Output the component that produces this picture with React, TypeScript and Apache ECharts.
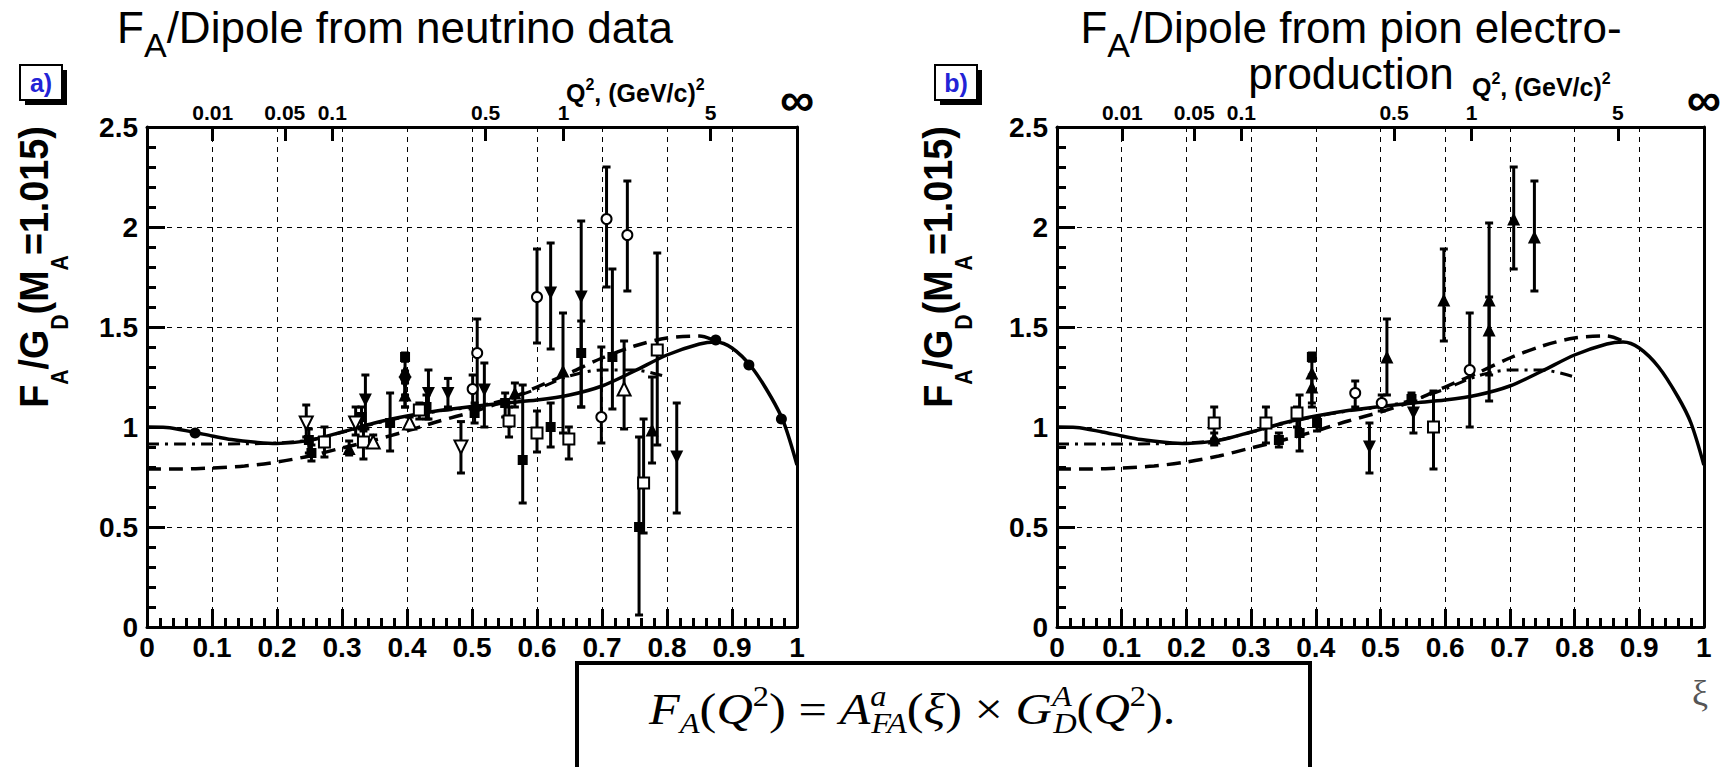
import React, { useEffect, useRef } from 'react';
import * as echarts from 'echarts';

// ---------------- data ----------------
const X_MIN = 0;
const X_MAX = 1;
const Y_MIN = 0;
const Y_MAX = 2.5;

// top axis: Q^2 values placed at their xi positions
const TOP_TICK_XI = [0.101, 0.212, 0.285, 0.521, 0.641, 0.867, 1.0];
const TOP_TICK_LABELS = ['0.01', '0.05', '0.1', '0.5', '1', '5', '∞'];

// model curves (same in both panels)
const SOLID_CURVE: number[][] = [
  [0, 1.0], [0.03, 0.998], [0.07, 0.975], [0.1, 0.955], [0.13, 0.937], [0.17, 0.923], [0.2, 0.918],
  [0.25, 0.933], [0.3, 0.975], [0.35, 1.02], [0.4, 1.055], [0.45, 1.083], [0.5, 1.103], [0.55, 1.12],
  [0.6, 1.135], [0.65, 1.16], [0.7, 1.205], [0.75, 1.28], [0.8, 1.36], [0.85, 1.415], [0.875, 1.425],
  [0.9, 1.395], [0.93, 1.3], [0.96, 1.15], [0.98, 1.02], [1.0, 0.81],
];
const DASHED_CURVE: number[][] = [
  [0, 0.79], [0.05, 0.79], [0.1, 0.795], [0.15, 0.805], [0.2, 0.825], [0.25, 0.855], [0.3, 0.895],
  [0.35, 0.935], [0.4, 0.98], [0.45, 1.03], [0.5, 1.075], [0.55, 1.13], [0.6, 1.2], [0.65, 1.27],
  [0.7, 1.345], [0.75, 1.405], [0.8, 1.445], [0.85, 1.455], [0.875, 1.43],
];
const DASHDOT_CURVE: number[][] = [
  [0, 0.915], [0.05, 0.915], [0.1, 0.915], [0.15, 0.916], [0.2, 0.92], [0.25, 0.935], [0.3, 0.973],
  [0.35, 1.017], [0.4, 1.052], [0.45, 1.08], [0.5, 1.1], [0.55, 1.135], [0.6, 1.19], [0.65, 1.255],
  [0.7, 1.285], [0.75, 1.285], [0.8, 1.25],
];

// [xi, value, low, high, marker]
type Pt = [number, number, number, number, string];
const NEUTRINO_POINTS: Pt[] = [
  [0.074, 0.97, 0.97, 0.97, 'fc'],
  [0.245, 1.02, 0.95, 1.11, 'otdn'],
  [0.249, 0.935, 0.87, 0.99, 'sq'],
  [0.253, 0.87, 0.83, 0.91, 'sq'],
  [0.273, 0.925, 0.85, 1.0, 'osq'],
  [0.311, 0.893, 0.86, 0.93, 'tri'],
  [0.321, 1.02, 0.96, 1.1, 'otdn'],
  [0.33, 1.05, 0.99, 1.1, 'sq'],
  [0.336, 1.135, 0.99, 1.26, 'tdn'],
  [0.333, 0.925, 0.84, 0.98, 'osq'],
  [0.348, 0.925, 0.9, 0.96, 'otri'],
  [0.374, 1.02, 0.88, 1.17, 'sq'],
  [0.397, 1.35, 1.33, 1.37, 'sq'],
  [0.397, 1.28, 1.1, 1.33, 'tri'],
  [0.397, 1.22, 1.16, 1.28, 'tdn'],
  [0.397, 1.16, 1.1, 1.22, 'tri'],
  [0.404, 1.02, 0.99, 1.05, 'otri'],
  [0.419, 1.085, 1.04, 1.12, 'osq'],
  [0.433, 1.168, 1.04, 1.285, 'tdn'],
  [0.43, 1.1, 1.04, 1.16, 'sq'],
  [0.463, 1.168, 1.1, 1.243, 'tdn'],
  [0.483, 0.9, 0.77, 1.027, 'otdn'],
  [0.501, 1.19, 1.09, 1.26, 'oc'],
  [0.504, 1.07, 1.02, 1.12, 'sq'],
  [0.508, 1.37, 1.1, 1.54, 'oc'],
  [0.519, 1.185, 1.0, 1.32, 'tdn'],
  [0.551, 1.12, 1.05, 1.17, 'sq'],
  [0.557, 1.03, 0.95, 1.1, 'osq'],
  [0.566, 1.17, 1.1, 1.22, 'tri'],
  [0.578, 0.835, 0.62, 1.21, 'sq'],
  [0.6, 1.65, 1.42, 1.89, 'oc'],
  [0.6, 0.97, 0.875, 1.08, 'osq'],
  [0.621, 1.67, 1.39, 1.92, 'tdn'],
  [0.621, 1.0, 0.9, 1.12, 'sq'],
  [0.64, 1.28, 0.97, 1.57, 'tri'],
  [0.649, 0.94, 0.84, 1.0, 'osq'],
  [0.668, 1.65, 1.1, 2.03, 'tdn'],
  [0.668, 1.37, 1.1, 1.53, 'sq'],
  [0.699, 1.05, 0.92, 1.4, 'oc'],
  [0.707, 2.04, 1.7, 2.3, 'oc'],
  [0.716, 1.35, 1.09, 1.79, 'sq'],
  [0.734, 1.19, 0.99, 1.43, 'otri'],
  [0.739, 1.96, 1.68, 2.23, 'oc'],
  [0.757, 0.5, 0.06, 0.95, 'sq'],
  [0.764, 0.72, 0.47, 1.04, 'osq'],
  [0.777, 0.985, 0.82, 1.25, 'tri'],
  [0.785, 1.385, 0.91, 1.87, 'osq'],
  [0.815, 0.85, 0.57, 1.12, 'tdn'],
  [0.875, 1.435, 1.435, 1.435, 'fc'],
  [0.926, 1.31, 1.31, 1.31, 'fc'],
  [0.976, 1.04, 1.04, 1.04, 'fc'],
];
const PION_POINTS: Pt[] = [
  [0.243, 1.02, 0.94, 1.1, 'osq'],
  [0.243, 0.945, 0.91, 0.97, 'tri'],
  [0.323, 1.02, 0.92, 1.1, 'osq'],
  [0.343, 0.935, 0.9, 0.97, 'sq'],
  [0.371, 1.07, 1.0, 1.1, 'osq'],
  [0.375, 0.97, 0.88, 1.16, 'sq'],
  [0.394, 1.35, 1.33, 1.37, 'sq'],
  [0.394, 1.27, 1.1, 1.33, 'tri'],
  [0.394, 1.2, 1.12, 1.26, 'tri'],
  [0.402, 1.02, 0.98, 1.05, 'sq'],
  [0.461, 1.17, 1.1, 1.23, 'oc'],
  [0.483, 0.9, 0.77, 1.02, 'tdn'],
  [0.502, 1.12, 1.08, 1.16, 'oc'],
  [0.51, 1.35, 1.16, 1.54, 'tri'],
  [0.548, 1.14, 1.12, 1.17, 'sq'],
  [0.551, 1.07, 0.97, 1.13, 'tdn'],
  [0.582, 1.0, 0.79, 1.18, 'osq'],
  [0.598, 1.635, 1.43, 1.89, 'tri'],
  [0.638, 1.285, 1.0, 1.57, 'oc'],
  [0.668, 1.635, 1.26, 2.02, 'tri'],
  [0.668, 1.485, 1.13, 1.65, 'tri'],
  [0.706, 2.04, 1.79, 2.3, 'tri'],
  [0.738, 1.95, 1.68, 2.23, 'tri'],
];

// ---------------- styles ----------------
const FONT = "'Liberation Sans', Arial, Helvetica, sans-serif";
const SERIF = "'Liberation Serif', 'DejaVu Serif', serif";

const MARKERS: Record<string, { symbol: string; size: number; fill: string; rotate: number }> = {
  sq: { symbol: 'rect', size: 10, fill: '#000', rotate: 0 },
  osq: { symbol: 'rect', size: 11, fill: '#fff', rotate: 0 },
  tri: { symbol: 'triangle', size: 13, fill: '#000', rotate: 0 },
  otri: { symbol: 'triangle', size: 13, fill: '#fff', rotate: 0 },
  tdn: { symbol: 'triangle', size: 13, fill: '#000', rotate: 180 },
  otdn: { symbol: 'triangle', size: 13, fill: '#fff', rotate: 180 },
  oc: { symbol: 'circle', size: 10, fill: '#fff', rotate: 0 },
  fc: { symbol: 'circle', size: 11, fill: '#000', rotate: 0 },
};

const GRIDS = [
  { left: 147, top: 127, width: 650, height: 500 },
  { left: 1057, top: 127, width: 650, height: 500 },
];

const topLabel = (v: number) => {
  let best = 0;
  let d = 1e9;
  TOP_TICK_XI.forEach((t, i) => {
    const dd = Math.abs(t - v);
    if (dd < d) { d = dd; best = i; }
  });
  const s = TOP_TICK_LABELS[best];
  return s === '∞' ? '{inf|∞}' : s;
};

function buildOption() {
  const xAxis: any[] = [];
  const yAxis: any[] = [];
  const series: any[] = [];
  const black = '#000';

  [0, 1].forEach((gi) => {
    xAxis.push({
      type: 'value', gridIndex: gi, position: 'bottom', min: X_MIN, max: X_MAX, interval: 0.1,
      axisLine: { show: true, onZero: false, lineStyle: { color: black, width: 3 } },
      axisTick: { show: true, inside: true, length: 18, lineStyle: { color: black, width: 3 } },
      minorTick: { show: true, splitNumber: 5, length: 9, lineStyle: { color: black, width: 3 } },
      axisLabel: { color: black, fontSize: 28, fontWeight: 'bold', fontFamily: FONT, margin: 6 },
      splitLine: { show: true, lineStyle: { color: black, width: 1, type: [5, 5] } },
    });
    xAxis.push({
      type: 'value', gridIndex: gi, position: 'top', min: X_MIN, max: X_MAX,
      axisLine: { show: true, onZero: false, lineStyle: { color: black, width: 3 } },
      axisTick: { show: true, inside: true, length: 14, customValues: TOP_TICK_XI, lineStyle: { color: black, width: 3 } },
      axisLabel: {
        show: true, customValues: TOP_TICK_XI, formatter: topLabel, margin: 4, color: black,
        fontSize: 21, fontWeight: 'bold', fontFamily: FONT,
        rich: { inf: { fontSize: 48, fontWeight: 'bold', color: black, fontFamily: FONT } },
      },
      splitLine: { show: false },
    });
    yAxis.push({
      type: 'value', gridIndex: gi, position: 'left', min: Y_MIN, max: Y_MAX, interval: 0.5,
      axisLine: { show: true, onZero: false, lineStyle: { color: black, width: 3 } },
      axisTick: { show: true, inside: true, length: 18, lineStyle: { color: black, width: 3 } },
      minorTick: { show: true, splitNumber: 5, length: 9, lineStyle: { color: black, width: 3 } },
      axisLabel: { color: black, fontSize: 28, fontWeight: 'bold', fontFamily: FONT, margin: 9 },
      splitLine: { show: true, lineStyle: { color: black, width: 1, type: [5, 5] } },
    });
    yAxis.push({
      type: 'value', gridIndex: gi, position: 'right', min: Y_MIN, max: Y_MAX,
      axisLine: { show: true, onZero: false, lineStyle: { color: black, width: 3 } },
      axisTick: { show: false }, axisLabel: { show: false }, splitLine: { show: false },
    });

    const xi = gi * 2;
    const yi = gi * 2;
    series.push({
      type: 'line', xAxisIndex: xi, yAxisIndex: yi, data: DASHDOT_CURVE, showSymbol: false, smooth: 0.3,
      lineStyle: { color: black, width: 3, type: [12, 6, 3, 6] }, z: 2, silent: true,
    });
    series.push({
      type: 'line', xAxisIndex: xi, yAxisIndex: yi, data: DASHED_CURVE, showSymbol: false, smooth: 0.3,
      lineStyle: { color: black, width: 3.5, type: [14, 8] }, z: 2, silent: true,
    });
    series.push({
      type: 'line', xAxisIndex: xi, yAxisIndex: yi, data: SOLID_CURVE, showSymbol: false, smooth: 0.3,
      lineStyle: { color: black, width: 3.5 }, z: 2, silent: true,
    });

    const pts = gi === 0 ? NEUTRINO_POINTS : PION_POINTS;
    series.push({
      type: 'custom', xAxisIndex: xi, yAxisIndex: yi, z: 3, silent: true,
      data: pts.filter((p) => p[3] > p[2]).map((p) => [p[0], p[1], p[2], p[3]]),
      encode: { x: 0, y: 1 },
      renderItem: (params: any, api: any) => {
        const x = api.value(0);
        const a = api.coord([x, api.value(2)]);
        const b = api.coord([x, api.value(3)]);
        const st = { stroke: black, lineWidth: 3 };
        return {
          type: 'group',
          children: [
            { type: 'line', shape: { x1: a[0], y1: a[1], x2: b[0], y2: b[1] }, style: st },
            { type: 'line', shape: { x1: a[0] - 4, y1: a[1], x2: a[0] + 4, y2: a[1] }, style: st },
            { type: 'line', shape: { x1: b[0] - 4, y1: b[1], x2: b[0] + 4, y2: b[1] }, style: st },
          ],
        };
      },
    });
    Object.keys(MARKERS).forEach((k) => {
      const m = MARKERS[k];
      const data = pts.filter((p) => p[4] === k).map((p) => [p[0], p[1]]);
      if (!data.length) return;
      series.push({
        type: 'scatter', xAxisIndex: xi, yAxisIndex: yi, z: 4, silent: true,
        symbol: m.symbol, symbolSize: m.size, symbolRotate: m.rotate,
        itemStyle: { color: m.fill, borderColor: black, borderWidth: m.fill === '#fff' ? 2 : 0, opacity: 1 },
        data,
      });
    });
  });

  const titleRich = {
    m: { fontSize: 44, fontFamily: FONT, color: '#000', verticalAlign: 'top', lineHeight: 46 },
    s: { fontSize: 34, fontFamily: FONT, color: '#000', verticalAlign: 'top', lineHeight: 46, padding: [23, 0, 0, 0] },
  };
  const yRich = {
    m: { fontSize: 41, fontFamily: FONT, fontWeight: 'bold', color: '#000', verticalAlign: 'top', lineHeight: 44 },
    s: { fontSize: 23, fontFamily: FONT, fontWeight: 'bold', color: '#000', verticalAlign: 'top', lineHeight: 44, padding: [36, 0, 0, 0] },
  };
  const yText = '{m|F}{s|A}{m|/G}{s|D}{m|(M}{s|A}{m|=1.015)}';
  const qRich = {
    b: { fontSize: 25, fontFamily: FONT, fontWeight: 'bold', color: '#000', verticalAlign: 'top', lineHeight: 26, padding: [4, 0, 0, 0] },
    p: { fontSize: 16, fontFamily: FONT, fontWeight: 'bold', color: '#000', verticalAlign: 'top', lineHeight: 26 },
  };
  const qText = '{b|Q}{p|2}{b|, (GeV/c)}{p|2}';
  const fGray = '#555';
  const fRich = {
    i: { fontSize: 45, fontFamily: SERIF, fontStyle: 'italic', color: fGray, verticalAlign: 'top', lineHeight: 72, padding: [8, 0, 0, 0] },
    r: { fontSize: 45, fontFamily: SERIF, color: fGray, verticalAlign: 'top', lineHeight: 72, padding: [8, 0, 0, 0] },
    sb: { fontSize: 29, fontFamily: SERIF, fontStyle: 'italic', color: fGray, verticalAlign: 'top', lineHeight: 72, padding: [31, 0, 0, 0] },
    sp: { fontSize: 29, fontFamily: SERIF, color: fGray, verticalAlign: 'top', lineHeight: 72, padding: [4, 0, 0, 0] },
    spi: { fontSize: 29, fontFamily: SERIF, fontStyle: 'italic', color: fGray, verticalAlign: 'top', lineHeight: 72, padding: [4, 0, 0, 0], width: 1 },
  };
  const fText = '{i|F}{sb|A}{r|(}{i|Q}{sp|2}{r|) = }{i|A}{spi|a}{sb|FA}{r|(}{i|ξ}{r|) × }{i|G}{spi|A}{sb|D}{r|(}{i|Q}{sp|2}{r|).}';

  const labelBox = (x: number, txt: string) => ({
    type: 'group', x, y: 65,
    children: [
      { type: 'rect', shape: { x: 5, y: 5, width: 42, height: 35 }, style: { fill: '#000' } },
      { type: 'rect', shape: { x: 0, y: 0, width: 42, height: 35 }, style: { fill: '#fff', stroke: '#000', lineWidth: 2 } },
      { type: 'text', x: 21, y: 18, style: { text: txt, fontSize: 25, fontWeight: 'bold', fontFamily: FONT, fill: '#2323d6', align: 'center', verticalAlign: 'middle' } },
    ],
  });

  const graphic: any[] = [
    { type: 'text', x: 395, y: 5, style: { text: '{m|F}{s|A}{m|/Dipole from neutrino data}', rich: titleRich, align: 'center', verticalAlign: 'top' } },
    { type: 'text', x: 1351, y: 5, style: { text: '{m|F}{s|A}{m|/Dipole from pion electro-}\n{m|production}', rich: titleRich, align: 'center', verticalAlign: 'top' } },
    labelBox(20, 'a)'),
    labelBox(935, 'b)'),
    { type: 'text', x: 566, y: 76, style: { text: qText, rich: qRich, align: 'left', verticalAlign: 'top' } },
    { type: 'text', x: 1472, y: 70, style: { text: qText, rich: qRich, align: 'left', verticalAlign: 'top' } },
    { type: 'text', x: 13, y: 267, rotation: Math.PI / 2, scaleX: 0.92, style: { text: yText, rich: yRich, align: 'center', verticalAlign: 'top' } },
    { type: 'text', x: 917, y: 267, rotation: Math.PI / 2, scaleX: 0.92, style: { text: yText, rich: yRich, align: 'center', verticalAlign: 'top' } },
    { type: 'rect', shape: { x: 577, y: 663, width: 733, height: 120 }, style: { fill: '#fff', stroke: '#000', lineWidth: 4 } },
    { type: 'text', x: 649, y: 678, scaleX: 1.12, style: { text: fText, rich: fRich, align: 'left', verticalAlign: 'top' } },
    { type: 'text', x: 1700, y: 693, style: { text: 'ξ', fontSize: 36, fontFamily: SERIF, fill: '#555', align: 'center', verticalAlign: 'middle' } },
  ];

  return {
    animation: false,
    backgroundColor: '#fff',
    grid: GRIDS.map((g) => ({ ...g, containLabel: false, show: false })),
    xAxis,
    yAxis,
    series,
    graphic,
  };
}

export default function App() {
  const ref = useRef<HTMLDivElement>(null);
  useEffect(() => {
    document.body.style.margin = '0';
    if (!ref.current) return;
    const chart = echarts.init(ref.current, undefined, { renderer: 'svg' });
    chart.setOption(buildOption() as any);
    return () => chart.dispose();
  }, []);
  return <div ref={ref} style={{ width: 1724, height: 767 }} />;
}
